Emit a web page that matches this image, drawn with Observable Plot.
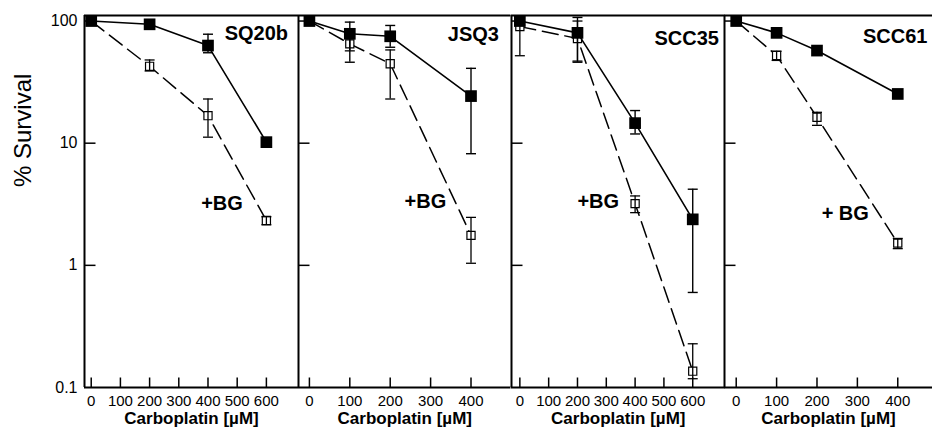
<!DOCTYPE html>
<html><head><meta charset="utf-8">
<script src="https://cdn.jsdelivr.net/npm/d3@7"></script>
<script src="https://cdn.jsdelivr.net/npm/@observablehq/plot@0.6"></script>
<style>
html,body{margin:0;padding:0;background:#fff;overflow:hidden}
#chart{position:relative;width:932px;height:434px;overflow:hidden;background:#fff}
#chart svg{position:absolute;top:0}
</style></head>
<body><div id="chart"></div>
<script>
// ---- data ----
const cellLines = ["SQ20b", "JSQ3", "SCC35", "SCC61"];
const bgLabels = ["+BG", "+BG", "+BG", "+ BG"];
const yTickValues = [0.1, 1, 10, 100];
const xTicksWide = [0, 100, 200, 300, 400, 500, 600];
const xTicksNarrow = [0, 100, 200, 300, 400];

// SQ20b
const sq20bDose = [0, 200, 400, 600];
const sq20bCtrl = [100, 94, 63, 10.2];
const sq20bCtrlLo = [null, null, 55, null];
const sq20bCtrlHi = [null, null, 78, null];
const sq20bBG = [100, 42.6, 16.8, 2.33];
const sq20bBGLo = [null, 39, 11.2, 2.15];
const sq20bBGHi = [null, 48, 23, 2.5];

// JSQ3
const jsq3Dose = [0, 100, 200, 400];
const jsq3Ctrl = [100, 78.6, 75, 24.3];
const jsq3CtrlLo = [null, 46, 61, 8.2];
const jsq3CtrlHi = [null, 98, 92, 41];
const jsq3BG = [100, 65, 44.7, 1.76];
const jsq3BGLo = [null, 57, 23, 1.04];
const jsq3BGHi = [null, 74, 58, 2.47];

// SCC35
const scc35Dose = [0, 200, 400, 600];
const scc35Ctrl = [100, 80, 14.6, 2.38];
const scc35CtrlLo = [null, 46, 11.9, 0.6];
const scc35CtrlHi = [null, 107, 18.5, 4.2];
const scc35BG = [90, 72, 3.2, 0.136];
const scc35BGLo = [52, 47, 2.7, 0.118];
const scc35BGHi = [104, 100, 3.7, 0.228];

// SCC61
const scc61Dose = [0, 100, 200, 400];
const scc61Ctrl = [100, 80, 57.3, 25.3];
const scc61CtrlLo = [null, null, null, null];
const scc61CtrlHi = [null, null, null, null];
const scc61BG = [100, 52.2, 16.3, 1.52];
const scc61BGLo = [null, 47.6, 14.0, 1.37];
const scc61BGHi = [null, 56.6, 17.9, 1.66];

// ---- layout ----
const layout = [
  {frameLeft: 84, frameRight: 298, ml: 84, xDomain: [-23, 710], xTicks: xTicksWide, tdx: -10.5, tdy: 10, lab: [448, 3.2]},
  {frameLeft: 298, frameRight: 510.5, ml: 12, xDomain: [-27, 499], xTicks: xTicksNarrow, tdx: -12, tdy: 11.5, lab: [287, 3.35]},
  {frameLeft: 510.5, frameRight: 724, ml: 12, xDomain: [-29, 712], xTicks: xTicksWide, tdx: -6, tdy: 15, lab: [272, 3.35]},
  {frameLeft: 724, frameRight: 932, ml: 12, xDomain: [-29, 486], xTicks: xTicksNarrow, tdx: -5, tdy: 13, lab: [270, 2.63]}
];
const yDomain = [0.1, 111];

const rows = (dose, v, lo, hi) => dose.map((d, i) => ({dose: d, v: v[i], lo: lo[i], hi: hi[i]}));
const series = [
  [rows(sq20bDose, sq20bCtrl, sq20bCtrlLo, sq20bCtrlHi), rows(sq20bDose, sq20bBG, sq20bBGLo, sq20bBGHi)],
  [rows(jsq3Dose, jsq3Ctrl, jsq3CtrlLo, jsq3CtrlHi), rows(jsq3Dose, jsq3BG, jsq3BGLo, jsq3BGHi)],
  [rows(scc35Dose, scc35Ctrl, scc35CtrlLo, scc35CtrlHi), rows(scc35Dose, scc35BG, scc35BGLo, scc35BGHi)],
  [rows(scc61Dose, scc61Ctrl, scc61CtrlLo, scc61CtrlHi), rows(scc61Dose, scc61BG, scc61BGLo, scc61BGHi)]
];

const tickUp = {draw(ctx) { ctx.moveTo(0, 0); ctx.lineTo(0, -10); }};
const tickRight = {draw(ctx) { ctx.moveTo(0, 0); ctx.lineTo(11, 0); }};
const cap = {draw(ctx) { ctx.moveTo(-5, 0); ctx.lineTo(5, 0); }};

const font = "'Liberation Sans', Arial, Helvetica, sans-serif";
const chart = document.getElementById("chart");

cellLines.forEach((name, i) => {
  const L = layout[i];
  const [ctrl, bg] = series[i];
  const ctrlErr = ctrl.filter(d => d.lo != null);
  const bgErr = bg.filter(d => d.lo != null);
  const W = L.frameRight - L.frameLeft;
  const marks = [
    Plot.ruleY([yDomain[1]], {stroke: "black", strokeWidth: 2}),
    Plot.ruleY([yDomain[0]], {stroke: "black", strokeWidth: 2}),
    Plot.ruleX([L.xDomain[0]], {stroke: "black", strokeWidth: 2}),
    Plot.dot(L.xTicks, {x: d => d, frameAnchor: "bottom", symbol: tickUp, fill: "none", stroke: "black", strokeWidth: 1.5}),
    Plot.dot([1, 10, 100], {y: d => d, frameAnchor: "left", symbol: tickRight, fill: "none", stroke: "black", strokeWidth: 1.5}),
    Plot.axisX({ticks: L.xTicks, tickSize: 0, tickPadding: 8, fontSize: 15, label: null}),
    Plot.text([ "Carboplatin [µM]" ], {frameAnchor: "bottom", dy: 36, fontWeight: "bold", fontSize: 17}),
    Plot.text([name], {frameAnchor: "top-right", textAnchor: "end", lineAnchor: "top", dx: L.tdx, dy: L.tdy, fontWeight: "bold", fontSize: 20}),
    Plot.text([bgLabels[i]], {x: () => L.lab[0], y: () => L.lab[1], fontWeight: "bold", fontSize: 20}),
    // +BG series (open squares, dashed)
    Plot.line(bg, {x: "dose", y: "v", stroke: "black", strokeWidth: 1.5, strokeDasharray: "16,7"}),
    Plot.dot(bg, {x: "dose", y: "v", symbol: "square", r: 4.6, fill: "white", stroke: "black", strokeWidth: 1.2}),
    Plot.ruleX(bgErr, {x: "dose", y1: "lo", y2: "hi", stroke: "black", strokeWidth: 1.3}),
    Plot.dot(bgErr, {x: "dose", y: "lo", symbol: cap, fill: "none", stroke: "black", strokeWidth: 1.3}),
    Plot.dot(bgErr, {x: "dose", y: "hi", symbol: cap, fill: "none", stroke: "black", strokeWidth: 1.3}),
    // control series (filled squares, solid)
    Plot.line(ctrl, {x: "dose", y: "v", stroke: "black", strokeWidth: 1.6}),
    Plot.ruleX(ctrlErr, {x: "dose", y1: "lo", y2: "hi", stroke: "black", strokeWidth: 1.4}),
    Plot.dot(ctrlErr, {x: "dose", y: "lo", symbol: cap, fill: "none", stroke: "black", strokeWidth: 1.4}),
    Plot.dot(ctrlErr, {x: "dose", y: "hi", symbol: cap, fill: "none", stroke: "black", strokeWidth: 1.4}),
    Plot.dot(ctrl, {x: "dose", y: "v", symbol: "square", r: 6.6, fill: "black", stroke: "none"})
  ];
  if (i === 0) {
    marks.push(
      Plot.axisY({ticks: yTickValues, tickFormat: d => String(d), tickSize: 0, tickPadding: 7, fontSize: 16, label: null}),
      Plot.text(["% Survival"], {frameAnchor: "left", rotate: -90, dx: -61.5, dy: -14.5, fontSize: 24})
    );
  }
  const svg = Plot.plot({
    width: L.ml + W + 12,
    height: 434,
    marginLeft: L.ml,
    marginRight: 12,
    marginTop: 15,
    marginBottom: 47,
    style: {background: "transparent", fontFamily: font, overflow: "visible", color: "black"},
    x: {domain: L.xDomain, axis: null},
    y: {type: "log", domain: yDomain, axis: null},
    marks
  });
  svg.style.left = (L.frameLeft - L.ml) + "px";
  chart.appendChild(svg);
});
</script>
</body></html>
